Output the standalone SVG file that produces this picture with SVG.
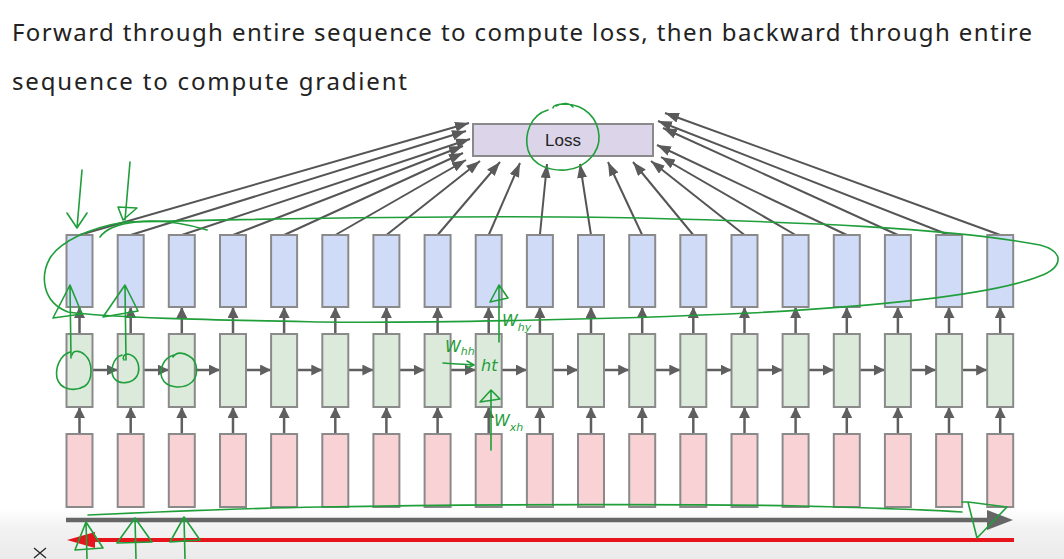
<svg xmlns="http://www.w3.org/2000/svg" width="1064" height="559" viewBox="0 0 1064 559">
<defs>
<linearGradient id="bg" x1="0" y1="0" x2="0" y2="1">
<stop offset="0" stop-color="#ffffff"/>
<stop offset="0.4" stop-color="#f2f2f2"/>
<stop offset="1" stop-color="#ebebeb"/>
</linearGradient>
<marker id="ha" viewBox="0 0 14 10" refX="14" refY="5" markerWidth="14" markerHeight="10" markerUnits="userSpaceOnUse" orient="auto"><path d="M0,0 L14,5 L0,10 z" fill="#5a5a5a"/></marker>
<marker id="hs" viewBox="0 0 11 11" refX="11" refY="5.5" markerWidth="11" markerHeight="11" markerUnits="userSpaceOnUse" orient="auto"><path d="M0,0 L11,5.5 L0,11 z" fill="#5f5f5f"/></marker>
<style>
.t{font-family:"Noto Sans","Open Sans","DejaVu Sans",sans-serif;font-size:24px;fill:#222;}
.lt{font-family:"Liberation Sans",Arial,sans-serif;font-size:17px;fill:#222;}
.y{fill:#cfdbf7;stroke:#8a8a8a;stroke-width:2;}
.h{fill:#dbeadb;stroke:#8a8a8a;stroke-width:2;}
.x{fill:#f8d2d5;stroke:#8a8a8a;stroke-width:2;}
.ls{fill:#dcd5ea;stroke:#8a8a8a;stroke-width:2;}
.la{stroke:#555;stroke-width:2;fill:none;marker-end:url(#ha);}
.sa line{stroke:#5f5f5f;stroke-width:2.5;fill:none;marker-end:url(#hs);}
.g{stroke:#1f9e3a;stroke-width:1.6;fill:none;stroke-linecap:round;stroke-linejoin:round;}
.gt{font-family:"DejaVu Sans",sans-serif;font-style:italic;fill:#1f9e3a;font-size:16px;}
</style>
</defs>
<rect x="0" y="0" width="1064" height="559" fill="#ffffff"/>
<rect x="0" y="508" width="1064" height="51" fill="url(#bg)"/>

<g id="title">
<text class="t" x="12" y="41" textLength="1020" lengthAdjust="spacing">Forward through entire sequence to compute loss, then backward through entire</text>
<text class="t" x="12" y="90" textLength="395" lengthAdjust="spacing">sequence to compute gradient</text>
</g>

<g id="loss"><rect class="ls" x="473" y="124" width="180" height="32"/><text class="lt" x="563" y="146" text-anchor="middle">Loss</text></g>

<g id="connectors">
<line class="la" x1="79.5" y1="235" x2="469" y2="123"/>
<line class="la" x1="130.7" y1="235" x2="466" y2="131"/>
<line class="la" x1="181.8" y1="235" x2="470" y2="139"/>
<line class="la" x1="233" y1="235" x2="463" y2="146"/>
<line class="la" x1="284.1" y1="235" x2="463" y2="153"/>
<line class="la" x1="335.3" y1="235" x2="466" y2="160"/>
<line class="la" x1="386.4" y1="235" x2="480" y2="161"/>
<line class="la" x1="437.6" y1="235" x2="500" y2="162"/>
<line class="la" x1="488.7" y1="235" x2="520" y2="163"/>
<line class="la" x1="539.9" y1="235" x2="547" y2="164"/>
<line class="la" x1="591" y1="235" x2="580" y2="164"/>
<line class="la" x1="642.2" y1="235" x2="608" y2="162"/>
<line class="la" x1="693.3" y1="235" x2="633" y2="162"/>
<line class="la" x1="744.5" y1="235" x2="651" y2="161"/>
<line class="la" x1="795.6" y1="235" x2="661" y2="157"/>
<line class="la" x1="846.8" y1="235" x2="657" y2="145"/>
<line class="la" x1="897.9" y1="235" x2="663" y2="128"/>
<line class="la" x1="949" y1="235" x2="658" y2="121"/>
<line class="la" x1="1000.2" y1="235" x2="665" y2="113"/>
<g class="sa">
<line x1="79.5" y1="434" x2="79.5" y2="407"/><line x1="130.7" y1="434" x2="130.7" y2="407"/><line x1="181.8" y1="434" x2="181.8" y2="407"/><line x1="233" y1="434" x2="233" y2="407"/><line x1="284.1" y1="434" x2="284.1" y2="407"/><line x1="335.3" y1="434" x2="335.3" y2="407"/><line x1="386.4" y1="434" x2="386.4" y2="407"/><line x1="437.6" y1="434" x2="437.6" y2="407"/><line x1="488.7" y1="434" x2="488.7" y2="407"/><line x1="539.9" y1="434" x2="539.9" y2="407"/><line x1="591" y1="434" x2="591" y2="407"/><line x1="642.2" y1="434" x2="642.2" y2="407"/><line x1="693.3" y1="434" x2="693.3" y2="407"/><line x1="744.5" y1="434" x2="744.5" y2="407"/><line x1="795.6" y1="434" x2="795.6" y2="407"/><line x1="846.8" y1="434" x2="846.8" y2="407"/><line x1="897.9" y1="434" x2="897.9" y2="407"/><line x1="949" y1="434" x2="949" y2="407"/><line x1="1000.2" y1="434" x2="1000.2" y2="407"/>
<line x1="79.5" y1="334" x2="79.5" y2="307"/><line x1="130.7" y1="334" x2="130.7" y2="307"/><line x1="181.8" y1="334" x2="181.8" y2="307"/><line x1="233" y1="334" x2="233" y2="307"/><line x1="284.1" y1="334" x2="284.1" y2="307"/><line x1="335.3" y1="334" x2="335.3" y2="307"/><line x1="386.4" y1="334" x2="386.4" y2="307"/><line x1="437.6" y1="334" x2="437.6" y2="307"/><line x1="488.7" y1="334" x2="488.7" y2="307"/><line x1="539.9" y1="334" x2="539.9" y2="307"/><line x1="591" y1="334" x2="591" y2="307"/><line x1="642.2" y1="334" x2="642.2" y2="307"/><line x1="693.3" y1="334" x2="693.3" y2="307"/><line x1="744.5" y1="334" x2="744.5" y2="307"/><line x1="795.6" y1="334" x2="795.6" y2="307"/><line x1="846.8" y1="334" x2="846.8" y2="307"/><line x1="897.9" y1="334" x2="897.9" y2="307"/><line x1="949" y1="334" x2="949" y2="307"/><line x1="1000.2" y1="334" x2="1000.2" y2="307"/>
<line x1="92.5" y1="370" x2="117.7" y2="370"/><line x1="143.7" y1="370" x2="168.8" y2="370"/><line x1="194.8" y1="370" x2="220" y2="370"/><line x1="246" y1="370" x2="271.1" y2="370"/><line x1="297.1" y1="370" x2="322.3" y2="370"/><line x1="348.3" y1="370" x2="373.4" y2="370"/><line x1="399.4" y1="370" x2="424.6" y2="370"/><line x1="450.6" y1="370" x2="475.7" y2="370"/><line x1="501.7" y1="370" x2="526.9" y2="370"/><line x1="552.9" y1="370" x2="578" y2="370"/><line x1="604" y1="370" x2="629.2" y2="370"/><line x1="655.2" y1="370" x2="680.3" y2="370"/><line x1="706.3" y1="370" x2="731.5" y2="370"/><line x1="757.5" y1="370" x2="782.6" y2="370"/><line x1="808.6" y1="370" x2="833.8" y2="370"/><line x1="859.8" y1="370" x2="884.9" y2="370"/><line x1="910.9" y1="370" x2="936.1" y2="370"/><line x1="962.1" y1="370" x2="987.2" y2="370"/>
</g>
<line x1="66" y1="520" x2="990" y2="520" stroke="#666" stroke-width="4.5"/>
<polygon points="987,510 1013,520 987,530" fill="#666"/>
<line x1="92" y1="540" x2="1014" y2="540" stroke="#e8141c" stroke-width="4"/>
<polygon points="67,540 95,532 95,548" fill="#e8141c"/>
</g>

<g id="col0"><rect class="y" x="66.5" y="235" width="26" height="72"/><rect class="h" x="66.5" y="334" width="26" height="73"/><rect class="x" x="66.5" y="434" width="26" height="73"/></g>
<g id="col1"><rect class="y" x="117.7" y="235" width="26" height="72"/><rect class="h" x="117.7" y="334" width="26" height="73"/><rect class="x" x="117.7" y="434" width="26" height="73"/></g>
<g id="col2"><rect class="y" x="168.8" y="235" width="26" height="72"/><rect class="h" x="168.8" y="334" width="26" height="73"/><rect class="x" x="168.8" y="434" width="26" height="73"/></g>
<g id="col3"><rect class="y" x="220" y="235" width="26" height="72"/><rect class="h" x="220" y="334" width="26" height="73"/><rect class="x" x="220" y="434" width="26" height="73"/></g>
<g id="col4"><rect class="y" x="271.1" y="235" width="26" height="72"/><rect class="h" x="271.1" y="334" width="26" height="73"/><rect class="x" x="271.1" y="434" width="26" height="73"/></g>
<g id="col5"><rect class="y" x="322.3" y="235" width="26" height="72"/><rect class="h" x="322.3" y="334" width="26" height="73"/><rect class="x" x="322.3" y="434" width="26" height="73"/></g>
<g id="col6"><rect class="y" x="373.4" y="235" width="26" height="72"/><rect class="h" x="373.4" y="334" width="26" height="73"/><rect class="x" x="373.4" y="434" width="26" height="73"/></g>
<g id="col7"><rect class="y" x="424.6" y="235" width="26" height="72"/><rect class="h" x="424.6" y="334" width="26" height="73"/><rect class="x" x="424.6" y="434" width="26" height="73"/></g>
<g id="col8"><rect class="y" x="475.7" y="235" width="26" height="72"/><rect class="h" x="475.7" y="334" width="26" height="73"/><rect class="x" x="475.7" y="434" width="26" height="73"/></g>
<g id="col9"><rect class="y" x="526.9" y="235" width="26" height="72"/><rect class="h" x="526.9" y="334" width="26" height="73"/><rect class="x" x="526.9" y="434" width="26" height="73"/></g>
<g id="col10"><rect class="y" x="578" y="235" width="26" height="72"/><rect class="h" x="578" y="334" width="26" height="73"/><rect class="x" x="578" y="434" width="26" height="73"/></g>
<g id="col11"><rect class="y" x="629.2" y="235" width="26" height="72"/><rect class="h" x="629.2" y="334" width="26" height="73"/><rect class="x" x="629.2" y="434" width="26" height="73"/></g>
<g id="col12"><rect class="y" x="680.3" y="235" width="26" height="72"/><rect class="h" x="680.3" y="334" width="26" height="73"/><rect class="x" x="680.3" y="434" width="26" height="73"/></g>
<g id="col13"><rect class="y" x="731.5" y="235" width="26" height="72"/><rect class="h" x="731.5" y="334" width="26" height="73"/><rect class="x" x="731.5" y="434" width="26" height="73"/></g>
<g id="col14"><rect class="y" x="782.6" y="235" width="26" height="72"/><rect class="h" x="782.6" y="334" width="26" height="73"/><rect class="x" x="782.6" y="434" width="26" height="73"/></g>
<g id="col15"><rect class="y" x="833.8" y="235" width="26" height="72"/><rect class="h" x="833.8" y="334" width="26" height="73"/><rect class="x" x="833.8" y="434" width="26" height="73"/></g>
<g id="col16"><rect class="y" x="884.9" y="235" width="26" height="72"/><rect class="h" x="884.9" y="334" width="26" height="73"/><rect class="x" x="884.9" y="434" width="26" height="73"/></g>
<g id="col17"><rect class="y" x="936.1" y="235" width="26" height="72"/><rect class="h" x="936.1" y="334" width="26" height="73"/><rect class="x" x="936.1" y="434" width="26" height="73"/></g>
<g id="col18"><rect class="y" x="987.2" y="235" width="26" height="72"/><rect class="h" x="987.2" y="334" width="26" height="73"/><rect class="x" x="987.2" y="434" width="26" height="73"/></g>

<g id="annotations">
<path class="g" d="M548,110 C530,115 524,135 528,150 C533,166 550,171 566,170 C586,168 600,152 599,136 C598,118 585,105 566,104 C556,104 553,106 553,108 M556,106 C563,102 570,103 573,107"/>
<path class="g" d="M125,222 C300,218 500,215 640,218 C800,222 950,228 1040,245 C1066,252 1062,268 1040,276 C1000,292 900,305 750,313 C600,320 420,323 320,322 C220,320 110,318 68,312 C42,302 40,276 50,258 C60,242 88,228 125,222"/>
<path class="g" d="M100,237 C110,223 150,213 207,230"/>
<path class="g" d="M82,170 L77,228 M67,213 L77,228 L87,213"/>
<path class="g" d="M130,162 L125,220 M118,207 L137,208 L123,220 Z"/>
<path class="g" d="M71,358 L70,286 M70,285 L53,318 L82,314 Z"/>
<path class="g" d="M126,360 L125,286 M125,285 L103,317 L138,311 Z"/>
<path class="g" d="M70,352 C60,355 55,368 57,378 C60,390 75,392 85,386 C93,380 93,362 85,355 C80,350 73,350 72,355"/>
<path class="g" d="M122,355 C112,358 110,372 114,378 C119,385 132,384 137,376 C141,368 138,356 128,354 C124,354 122,357 124,360"/>
<path class="g" d="M174,355 C163,358 159,370 162,378 C166,388 183,390 192,382 C199,375 198,361 189,356 C183,352 176,352 173,357"/>
<path class="g" d="M499,342 L499,286 M499,285 L490,302 L508,298 Z"/>
<text class="gt" x="502" y="326">W<tspan font-size="11" dy="5">hy</tspan></text>
<text class="gt" x="445" y="352">W<tspan font-size="11" dy="3">hh</tspan></text>
<path class="g" d="M443,363 C455,364 465,364 473,365 M467,361 L474,365 L467,368"/>
<text class="gt" x="481" y="371">ht</text>
<path class="g" d="M491,450 L491,391 M491,390 L480,402 L500,399 Z"/>
<text class="gt" x="494" y="426">W<tspan font-size="11" dy="5">xh</tspan></text>
<path class="g" d="M88,515 C200,510 260,508 320,507 C500,504 700,504 800,506 C880,508 930,510 962,512"/>
<path class="g" d="M962,502 L968,502 M968,502 L977,538 L1007,507 Z"/>
<path class="g" d="M87,559 L86,522 M86,522 L75,550 L103,548 Z"/>
<path class="g" d="M136,559 L135,518 M135,518 L117,543 L152,542 Z"/>
<path class="g" d="M185,559 L184,517 M184,517 L170,542 L200,540 Z"/>
</g>
<g id="close-mark"><path d="M34,548 L46,558 M46,548 L34,558" stroke="#222" stroke-width="1.2"/></g>
</svg>
